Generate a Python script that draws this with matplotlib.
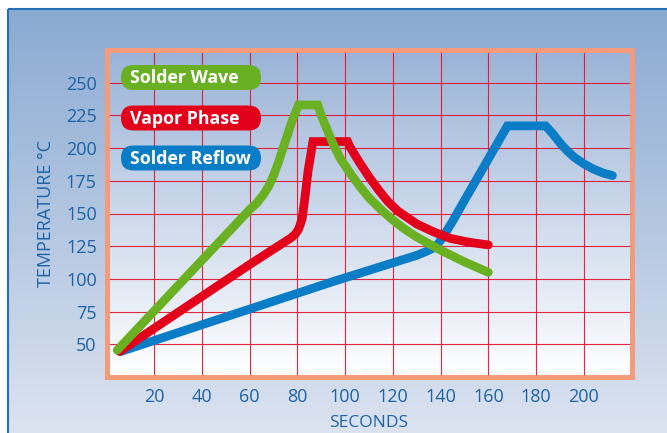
import numpy as np
import matplotlib
matplotlib.use("Agg")
import matplotlib.pyplot as plt
from matplotlib.patches import FancyBboxPatch

plt.rcParams['font.family'] = ['Open Sans', 'DejaVu Sans']

# ---- data ----
series_names = ['Solder Wave', 'Vapor Phase', 'Solder Reflow']

wave_time = [4.5, 60, 63, 66, 68, 70, 72, 74, 76, 78, 80.5, 88.5, 90, 92, 95, 98, 102, 106,
             110, 115, 120, 125, 130, 135, 140, 150, 160]
wave_temp = [45.5, 153, 158, 165, 171, 179, 189, 200, 211, 222, 233, 233, 225, 216, 203, 192,
             181, 171, 162, 153, 145, 138, 132, 127, 122, 113, 105]

vapor_time = [5.5, 60, 77, 79, 80.5, 82, 83, 84.5, 86.5, 101, 102, 104, 106, 110, 114, 118,
              122, 126, 130, 137, 144, 152, 160]
vapor_temp = [44.5, 111, 131, 134, 138, 146, 160, 183, 205, 205, 201, 195, 189, 178, 168, 159,
              152, 147, 142, 136, 131, 128, 126]

reflow_time = [6, 95, 130, 134, 138, 141, 145, 150, 168, 184, 187, 190, 193, 196, 200, 204,
               208, 212]
reflow_temp = [44.5, 98, 118, 121, 124.5, 132, 144, 160, 217, 217, 211, 204, 198, 193, 188,
               184, 181, 179]

x_ticks = [20, 40, 60, 80, 100, 120, 140, 160, 180, 200]
y_ticks = [50, 75, 100, 125, 150, 175, 200, 225, 250]

colors = ['#6AB023', '#E2001A', '#0A7DC6']
text_blue = '#1D63A6'
orange = '#F39B7B'

W, H = 667, 433
fig = plt.figure(figsize=(W / 100, H / 100), dpi=100, facecolor='white')

# ---- outer gradient background ----
bg = fig.add_axes([0, 0, 1, 1], zorder=-10)
bg.set_xlim(0, W)
bg.set_ylim(H, 0)
bg.axis('off')
top_c = np.array(matplotlib.colors.to_rgb('#8AAAD2'))
bot_c = np.array(matplotlib.colors.to_rgb('#DCE3F0'))
t = np.linspace(0, 1, 256)[:, None, None]
grad = top_c * (1 - t) + bot_c * t
bg.imshow(grad, extent=[8, W, H, 9], aspect='auto', interpolation='bilinear')
bg.plot([8, 8], [H, 9], color='#2470B8', lw=1.5, solid_capstyle='butt')
bg.plot([8, W], [9, 9], color='#2470B8', lw=1.5, solid_capstyle='butt')

# ---- main axes ----
ax = fig.add_axes([106.5 / W, 1 - 377 / H, 525 / W, 327 / H])
ax.set_facecolor('none')
in_top = np.array(matplotlib.colors.to_rgb('#9AB3D7'))
in_bot = np.array(matplotlib.colors.to_rgb('#FFFFFF'))
grad2 = in_top * (1 - t) + in_bot * t
ax.imshow(grad2, extent=[0, 1, 0, 1], transform=ax.transAxes, aspect='auto',
          interpolation='bilinear', zorder=0)

lw = 6.3
ax.plot(reflow_time, reflow_temp, color=colors[2], lw=lw, solid_capstyle='round',
        solid_joinstyle='miter', zorder=3)
ax.plot(vapor_time, vapor_temp, color=colors[1], lw=lw, solid_capstyle='round',
        solid_joinstyle='miter', zorder=4)
ax.plot(wave_time, wave_temp, color=colors[0], lw=lw, solid_capstyle='round',
        solid_joinstyle='miter', zorder=5)

ax.set_xlim(0, 220)
ax.set_ylim(25, 275)
ax.set_xticks(x_ticks)
ax.set_yticks(y_ticks)
ax.grid(True, color='#E2102C', lw=0.8, alpha=0.9, zorder=1)
ax.tick_params(length=0, labelcolor=text_blue, labelsize=13)
ax.tick_params(axis='x', pad=8)
ax.tick_params(axis='y', pad=7)
for s in ax.spines.values():
    s.set_color(orange)
    s.set_linewidth(3.6)
    s.set_zorder(6)

ax.set_xlabel('SECONDS', color=text_blue, fontsize=12.5)
ax.xaxis.set_label_coords(0.5, -0.116)
ax.set_ylabel('TEMPERATURE °C', color=text_blue, fontsize=13, va='center')
ax.yaxis.set_label_coords(-0.116, 0.5)

# ---- legend pills ----
ov = fig.add_axes([0, 0, 1, 1], zorder=10)
ov.set_xlim(0, W)
ov.set_ylim(H, 0)
ov.axis('off')
ov.patch.set_alpha(0)
pill_y = [77.5, 118, 158]
for name, c, y in zip(series_names, colors, pill_y):
    ov.add_patch(FancyBboxPatch((121, y - 12.5), 140, 25,
                                boxstyle='round,pad=0,rounding_size=12.5',
                                fc=c, ec='none'))
    ov.text(130, y + 0.5, name, color='white', fontweight='bold', fontsize=12.8,
            va='center', ha='left')

fig.savefig('out.png', dpi=100, facecolor='white')
